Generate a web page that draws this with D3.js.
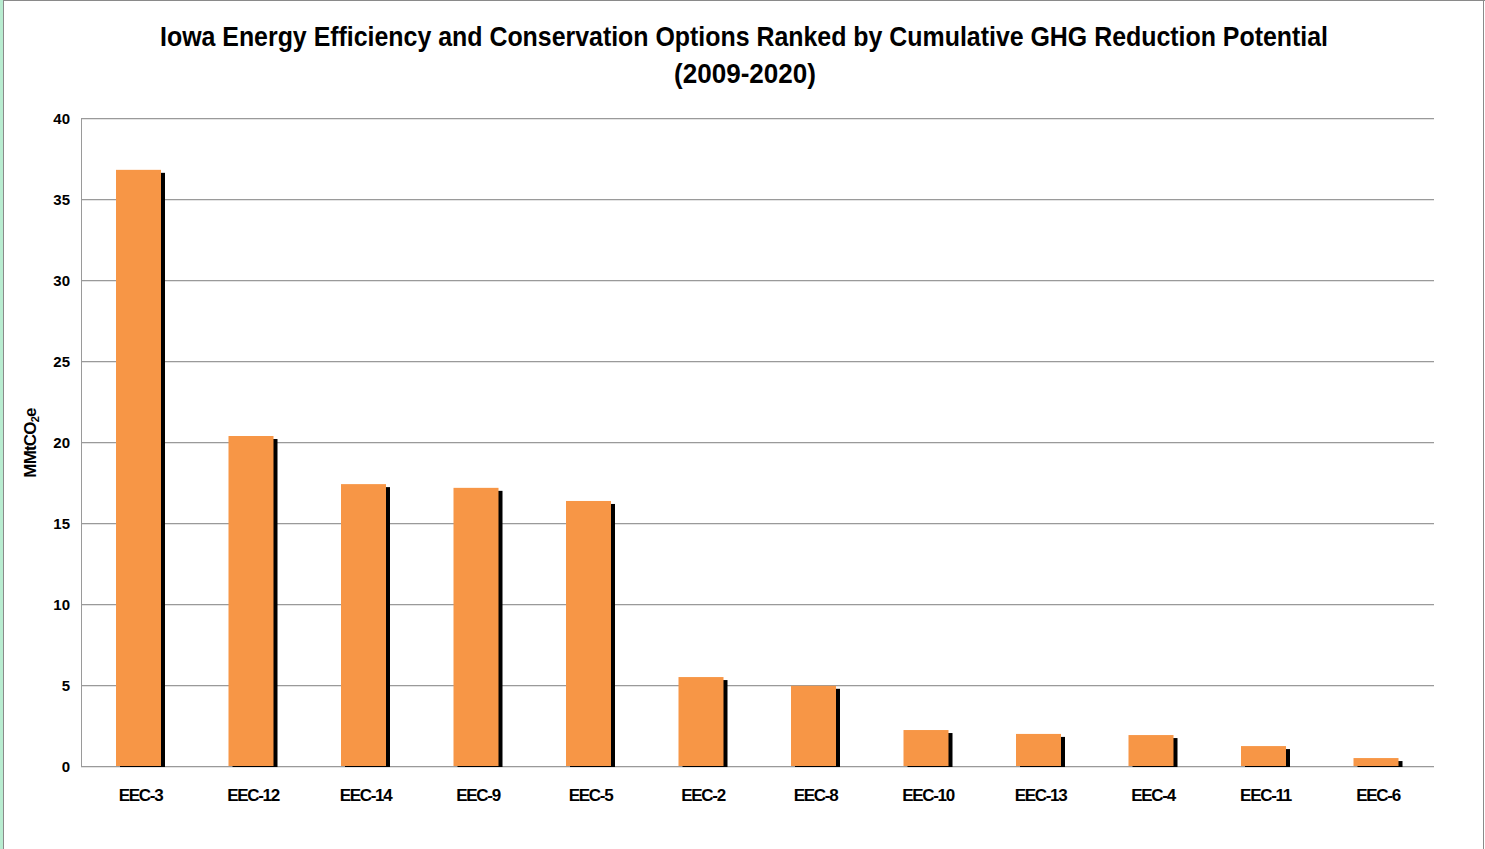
<!DOCTYPE html>
<html>
<head>
<meta charset="utf-8">
<script src="https://cdn.jsdelivr.net/npm/d3@7"></script>
<style>
  html, body { margin: 0; padding: 0; background: #fff; }
  svg { display: block; }
  text { font-family: "Liberation Sans", Arial, Helvetica, sans-serif; font-weight: bold; fill: #000; }
</style>
</head>
<body>
<script>
const categories = ["EEC-3", "EEC-12", "EEC-14", "EEC-9", "EEC-5", "EEC-2", "EEC-8", "EEC-10", "EEC-13", "EEC-4", "EEC-11", "EEC-6"];
const values = [36.8, 20.37, 17.4, 17.17, 16.36, 5.49, 4.95, 2.22, 1.98, 1.91, 1.23, 0.49];
const yTicks = [0, 5, 10, 15, 20, 25, 30, 35, 40];
const titleLines = ["Iowa Energy Efficiency and Conservation Options Ranked by Cumulative GHG Reduction Potential", "(2009-2020)"];

const W = 1485, H = 849;
const margin = { left: 81, right: 51, top: 118, bottom: 83 };
const plotW = W - margin.left - margin.right;
const plotH = H - margin.top - margin.bottom;

const svg = d3.select("body").append("svg").attr("width", W).attr("height", H);

// outer frame
svg.append("rect").attr("x", 0).attr("y", 0).attr("width", 3).attr("height", H).attr("fill", "#b8ecd0");
svg.append("line").attr("x1", 3.5).attr("x2", 3.5).attr("y1", 0).attr("y2", H).attr("stroke", "#8a8a8a");
svg.append("line").attr("x1", 3).attr("x2", W).attr("y1", 0.5).attr("y2", 0.5).attr("stroke", "#8a8a8a");
svg.append("line").attr("x1", W - 1.5).attr("x2", W - 1.5).attr("y1", 0).attr("y2", H).attr("stroke", "#8a8a8a");

// title
const title = svg.append("g");
title.append("text").attr("x", 744).attr("y", 46).attr("text-anchor", "middle")
  .attr("font-size", 28).attr("textLength", 1168).attr("lengthAdjust", "spacingAndGlyphs")
  .text(titleLines[0]);
title.append("text").attr("x", 745).attr("y", 83).attr("text-anchor", "middle")
  .attr("font-size", 28).attr("textLength", 142).attr("lengthAdjust", "spacingAndGlyphs")
  .text(titleLines[1]);

const x = d3.scaleBand().domain(categories).range([82.25, 1432.25])
  .paddingInner(0.6).paddingOuter(0.3);
const y = d3.scaleLinear().domain([0, 40]).range([margin.top + plotH, margin.top]);

// gridlines
const grid = svg.append("g");
grid.selectAll("line.g2").data(yTicks).join("line")
  .attr("x1", margin.left).attr("x2", margin.left + plotW)
  .attr("y1", d => Math.round(y(d)) + 1.5).attr("y2", d => Math.round(y(d)) + 1.5)
  .attr("stroke", "#e4e4e4");
grid.selectAll("line.g").data(yTicks).join("line")
  .attr("x1", margin.left).attr("x2", margin.left + plotW)
  .attr("y1", d => Math.round(y(d)) + 0.5).attr("y2", d => Math.round(y(d)) + 0.5)
  .attr("stroke", "#9a9a9a");
svg.append("line").attr("x1", margin.left + 0.5).attr("x2", margin.left + 0.5)
  .attr("y1", margin.top).attr("y2", margin.top + plotH + 1).attr("stroke", "#9a9a9a");

// y axis labels
const yAxis = d3.axisLeft(y).tickValues(yTicks).tickSize(0).tickPadding(11);
const ya = svg.append("g").attr("transform", `translate(${margin.left},0)`).call(yAxis);
ya.select(".domain").remove();
ya.selectAll("text").attr("font-size", 15).attr("font-family", "Liberation Sans, Arial, sans-serif")
  .attr("font-weight", "bold").attr("dy", "0.35em");

// y title
const yt = svg.append("text").attr("transform", `translate(36,${443}) rotate(-90)`)
  .attr("text-anchor", "middle").attr("font-size", 17).attr("letter-spacing", -0.8);
yt.append("tspan").text("MMtCO");
yt.append("tspan").attr("font-size", 11).attr("dy", 3).text("2");
yt.append("tspan").attr("dy", -3).text("e");

// bars: shadows then bars
const base = y(0);
const bars = svg.append("g");
bars.selectAll("rect.shadow").data(values).join("rect")
  .attr("class", "shadow")
  .attr("x", (d, i) => x(categories[i]) + 4)
  .attr("y", d => y(d) + 3)
  .attr("width", x.bandwidth())
  .attr("height", d => Math.max(0, base + 1 - (y(d) + 3)))
  .attr("fill", "#000");
bars.selectAll("rect.bar").data(values).join("rect")
  .attr("class", "bar")
  .attr("x", (d, i) => x(categories[i]))
  .attr("y", d => y(d))
  .attr("width", x.bandwidth())
  .attr("height", d => base - y(d))
  .attr("fill", "#f79646");

// x axis labels
const xAxis = d3.axisBottom(x).tickSize(0).tickPadding(23);
const xa = svg.append("g").attr("transform", `translate(0,${base})`).call(xAxis);
xa.select(".domain").remove();
xa.selectAll("text").attr("font-size", 17).attr("font-family", "Liberation Sans, Arial, sans-serif")
  .attr("font-weight", "bold").attr("letter-spacing", -1.3).attr("dx", 2);
</script>
</body>
</html>
